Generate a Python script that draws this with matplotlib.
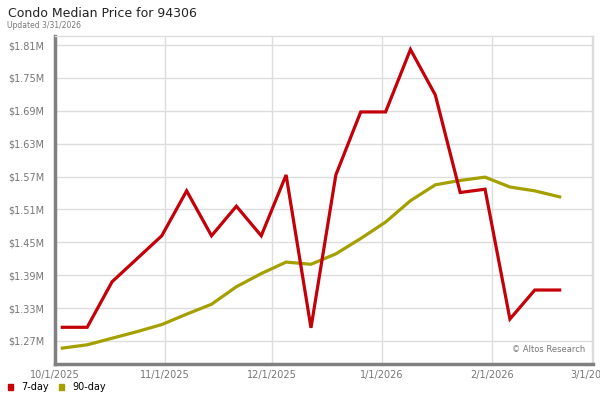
import pandas as pd
import matplotlib
matplotlib.use("Agg")
import matplotlib.pyplot as plt
import matplotlib.dates as mdates
from matplotlib.ticker import FuncFormatter

weeks = pd.date_range('2025-10-03', periods=21, freq='7D')

# median price, $M
day7 = [1.295, 1.295, 1.378, 1.420, 1.462, 1.544, 1.462, 1.516, 1.462, 1.573,
        1.294, 1.573, 1.688, 1.688, 1.802, 1.719, 1.541, 1.547, 1.310, 1.363, 1.363]
day90 = [1.257, 1.263, 1.275, 1.287, 1.300, 1.319, 1.337, 1.369, 1.393, 1.414,
         1.410, 1.429, 1.457, 1.487, 1.526, 1.555, 1.563, 1.569, 1.551, 1.544, 1.533]

y_ticks = [1.27, 1.33, 1.39, 1.45, 1.51, 1.57, 1.63, 1.69, 1.75, 1.81]
x_ticks = ['2025-10-01', '2025-11-01', '2025-12-01', '2026-01-01', '2026-02-01', '2026-03-01']

RED = '#c40008'
OLIVE = '#a3a000'


def date_label(v, p):
    d = mdates.num2date(v)
    return f'{d.month}/{d.day}/{d.year}'


def plot():
    fig = plt.figure(figsize=(6, 4), dpi=100)
    ax = fig.add_axes([0.092, 0.09, 0.897, 0.82])

    ax.plot(weeks, day90, color=OLIVE, lw=2.3, solid_joinstyle='miter', zorder=3)
    ax.plot(weeks, day7, color=RED, lw=2.3, solid_joinstyle='miter', zorder=4)

    ax.set_ylim(1.228, 1.8266)
    ax.set_xlim(pd.Timestamp('2025-10-01'), pd.Timestamp('2026-03-01 12:00'))

    ax.set_yticks(y_ticks)
    ax.yaxis.set_major_formatter(FuncFormatter(lambda v, p: f'${v:.2f}M'))
    ax.set_xticks(pd.to_datetime(x_ticks))
    ax.xaxis.set_major_formatter(FuncFormatter(date_label))

    ax.tick_params(length=0, labelsize=7, labelcolor='#777777')
    ax.tick_params(axis='y', pad=8)
    ax.tick_params(axis='x', pad=4)

    ax.grid(True, color='#dddddd', lw=1)
    ax.set_axisbelow(True)
    for s in ['top', 'right']:
        ax.spines[s].set_color('#dddddd')
        ax.spines[s].set_linewidth(1)
    for s in ['left', 'bottom']:
        ax.spines[s].set_color('#808080')
        ax.spines[s].set_linewidth(2.5)

    ax.text(0.985, 0.03, '\u00a9 Altos Research', transform=ax.transAxes,
            ha='right', va='bottom', fontsize=6, color='#777777')

    fig.text(0.013, 0.957, 'Condo Median Price for 94306', fontsize=9,
             color='#222222', va='baseline')
    fig.text(0.012, 0.930, 'Updated 3/31/2026', fontsize=5.5, color='#777777',
             va='baseline')

    # legend
    fig.patches.append(plt.Rectangle((0.0133, 0.025), 0.009, 0.015,
                                     transform=fig.transFigure, color=RED))
    fig.text(0.036, 0.033, '7-day', fontsize=7, va='center')
    fig.patches.append(plt.Rectangle((0.098, 0.025), 0.009, 0.015,
                                     transform=fig.transFigure, color=OLIVE))
    fig.text(0.121, 0.033, '90-day', fontsize=7, va='center')

    fig.savefig('out.png', dpi=100)


if __name__ == '__main__':
    plot()
